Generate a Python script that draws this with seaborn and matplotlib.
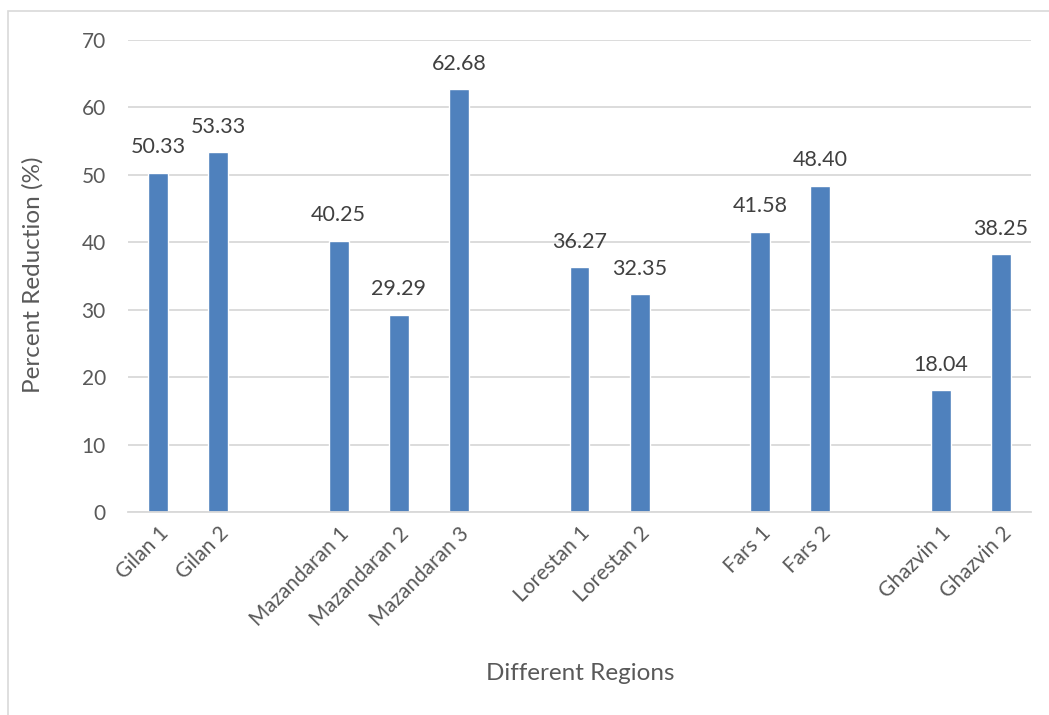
import matplotlib
matplotlib.use("Agg")
import matplotlib.pyplot as plt
import seaborn as sns
import pandas as pd
from matplotlib.patches import Rectangle

regions = ["Gilan 1", "Gilan 2", "Mazandaran 1", "Mazandaran 2", "Mazandaran 3",
           "Lorestan 1", "Lorestan 2", "Fars 1", "Fars 2", "Ghazvin 1", "Ghazvin 2"]
values = [50.33, 53.33, 40.25, 29.29, 62.68, 36.27, 32.35, 41.58, 48.40, 18.04, 38.25]
# layout order with blank slots between region groups
order = ["Gilan 1", "Gilan 2", " ",
         "Mazandaran 1", "Mazandaran 2", "Mazandaran 3", "  ",
         "Lorestan 1", "Lorestan 2", "   ",
         "Fars 1", "Fars 2", "    ",
         "Ghazvin 1", "Ghazvin 2"]
yticks = [0, 10, 20, 30, 40, 50, 60, 70]

sns.set_theme(style="white")
plt.rcParams['font.family'] = ['Lato', 'DejaVu Sans']

df = pd.DataFrame({"Region": regions, "Value": values})

fig = plt.figure(figsize=(10.49, 7.15), dpi=100)
ax = fig.add_axes([128/1049, 1 - 512/715, (1031-128)/1049, (512-40)/715])

sns.barplot(data=df, x="Region", y="Value", order=order, color="#4f81bd",
            saturation=1, width=0.33, ax=ax, errorbar=None)

ax.set_ylim(0, 70)
ax.set_xlim(-0.5, len(order) - 0.5)
ax.set_yticks(yticks)
ax.yaxis.grid(True, color="#d9d9d9", linewidth=1.3)
ax.set_axisbelow(True)
for s in ["top", "right", "left"]:
    ax.spines[s].set_visible(False)
ax.spines["bottom"].set_color("#d9d9d9")
ax.spines["bottom"].set_linewidth(1.3)

ax.tick_params(axis="y", labelsize=15, colors="#595959", length=0, pad=16)
ax.tick_params(axis="x", labelsize=15, colors="#595959", length=0, pad=8)
for lbl in ax.get_xticklabels():
    lbl.set_rotation(45)
    lbl.set_ha("right")
    lbl.set_rotation_mode("anchor")

for c in ax.containers:
    ax.bar_label(c, labels=[f"{v:.2f}" for v in c.datavalues], padding=11,
                 fontsize=15.5, color="#404040")

ax.set_xlabel("Different Regions", fontsize=17.5, color="#595959", labelpad=0)
ax.set_ylabel("Percent Reduction (%)", fontsize=17.5, color="#595959")
ax.xaxis.set_label_coords((580-128)/(1031-128), 1 - (663-40)/(512-40))
ax.yaxis.set_label_coords((44-128)/(1031-128), (512-275)/(512-40))

fig.patches.append(Rectangle((8/1049, -0.01), 1.1, 1 - 11/715 + 0.01,
                             transform=fig.transFigure, fill=False,
                             edgecolor="#d9d9d9", linewidth=1.2))

fig.savefig("out.png", dpi=100)
